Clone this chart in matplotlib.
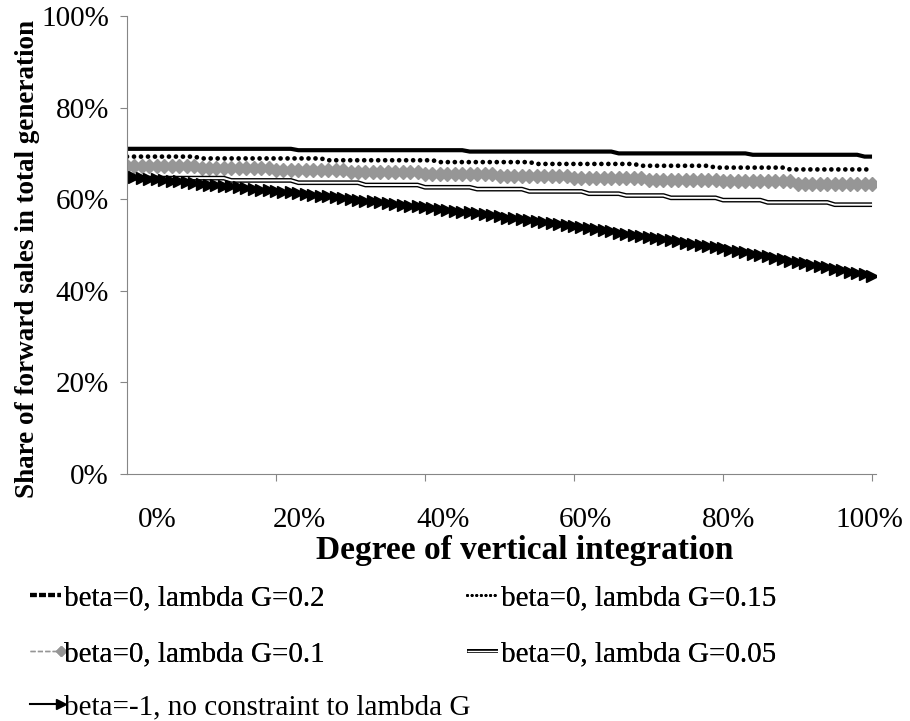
import numpy as np
import matplotlib
matplotlib.use("Agg")
import matplotlib.pyplot as plt
from matplotlib.lines import Line2D
from matplotlib.legend_handler import HandlerTuple, HandlerLine2D

plt.rcParams['font.family'] = ['Liberation Serif', 'DejaVu Serif']

# degree of vertical integration, 0..100 %
integration = np.arange(0, 101)

# share of forward sales (%)
lam20 = [71.0]*23 + [70.7]*23 + [70.4]*20 + [70.0]*18 + [69.7]*15 + [69.3]*2
lam15 = ([69.3]*10 + [68.9]*17 + [68.5]*15 + [68.1]*13 + [67.7]*14
         + [67.3]*10 + [66.9]*10 + [66.5]*12)
lam10 = ([67.2]*10 + [66.8]*10 + [66.4]*10 + [66.0]*10 + [65.6]*10
         + [65.1]*10 + [64.7]*10 + [64.3]*10 + [63.9]*10 + [63.4]*11)
lam05 = ([64.6]*14 + [64.1]*9 + [63.6]*9 + [63.1]*8 + [62.6]*7 + [62.2]*7
         + [61.7]*8 + [61.2]*5 + [60.8]*6 + [60.3]*7 + [59.8]*6 + [59.3]*9 + [58.8]*6)
beta_m1 = [65.0, 64.8, 64.7, 64.5, 64.4, 64.2, 64.0, 63.9, 63.7, 63.6,
           63.4, 63.2, 63.1, 62.9, 62.8, 62.6, 62.4, 62.3, 62.1, 62.0,
           61.8, 61.6, 61.5, 61.3, 61.1, 60.9, 60.8, 60.6, 60.4, 60.2,
           60.1, 59.9, 59.7, 59.5, 59.3, 59.2, 59.0, 58.8, 58.6, 58.5,
           58.3, 58.1, 57.9, 57.7, 57.5, 57.3, 57.1, 56.9, 56.7, 56.5,
           56.3, 56.0, 55.8, 55.6, 55.4, 55.2, 55.0, 54.8, 54.6, 54.4,
           54.2, 54.0, 53.7, 53.5, 53.2, 53.0, 52.7, 52.5, 52.2, 52.0,
           51.8, 51.5, 51.3, 51.0, 50.8, 50.5, 50.3, 50.0, 49.8, 49.5,
           49.3, 49.0, 48.7, 48.4, 48.1, 47.8, 47.5, 47.2, 46.9, 46.6,
           46.3, 46.0, 45.7, 45.4, 45.1, 44.8, 44.5, 44.2, 43.9, 43.6, 43.3]

labels = ["beta=0, lambda G=0.2", "beta=0, lambda G=0.15", "beta=0, lambda G=0.1",
          "beta=0, lambda G=0.05", "beta=-1, no constraint to lambda G"]
y_ticks = [0, 20, 40, 60, 80, 100]
x_tick_labels = ["0%", "20%", "40%", "60%", "80%", "100%"]


class EndMarkerHandler(HandlerLine2D):
    # legend sample with the marker only at the right end, like Excel
    def create_artists(self, legend, orig_handle, xdescent, ydescent,
                       width, height, fontsize, trans):
        arts = super().create_artists(legend, orig_handle, xdescent, ydescent,
                                      width, height, fontsize, trans)
        for a in arts:
            a.set_markevery([1])
        return arts


fig = plt.figure(figsize=(9.1, 7.21), dpi=100)
ax = fig.add_axes([127/910, 1 - 474/721, 749.5/910, 458/721])

gray = '#969696'
ax.plot(integration, lam20, color='black', lw=3, solid_capstyle='butt')
ax.plot(integration, lam15, color='black', lw=3.4, linestyle=(0, (0.01, 1.47)),
        dash_capstyle='round')
ax.plot(integration, lam10, color=gray, lw=1, ls='--', marker='D', ms=7.5,
        mec=gray, mfc=gray)
ax.plot(integration, lam05, color='black', lw=3.4, solid_capstyle='butt')
ax.plot(integration, lam05, color='white', lw=1.4, solid_capstyle='butt')
ax.plot(integration, beta_m1, color='black', lw=1.5, marker='>', ms=9)

ax.set_xlim(0, 100.6)
ax.set_ylim(0, 100)
ax.set_yticks(y_ticks)
ax.set_yticklabels([f"{v}%" for v in y_ticks], fontsize=21)
ax.set_xticks([20, 40, 60, 80, 100])
ax.set_xticklabels([])
ax.set_xticks([4.0, 23.2, 42.4, 61.5, 80.7, 99.7], minor=True)
ax.set_xticklabels(x_tick_labels, minor=True, fontsize=21)
ax.tick_params(axis='x', which='major', length=5, color='#868686')
ax.tick_params(axis='x', which='minor', length=0, pad=24)
ax.tick_params(axis='y', length=5, color='#868686', pad=8)
for s in ['top', 'right']:
    ax.spines[s].set_visible(False)
for s in ['left', 'bottom']:
    ax.spines[s].set_color('#868686')

fig.text(28/910, 1 - 259/721, "Share of forward sales in total generation",
         rotation=90, ha='center', va='center', fontsize=19.5, fontweight='bold')
fig.text(525/910, 1 - 551/721, "Degree of vertical integration",
         ha='center', va='center', fontsize=24, fontweight='bold')

# legend proxies
h20 = Line2D([], [], color='black', lw=3, linestyle=(0, (1.6, 0.6)))
h15 = Line2D([], [], color='black', lw=2.2, linestyle=(0, (0.01, 1.5)),
             dash_capstyle='round')
h10 = Line2D([], [], color=gray, lw=1, ls='--', marker='D', ms=5, mec=gray)
h05 = (Line2D([], [], color='black', lw=2.8, solid_capstyle='butt'),
       Line2D([], [], color='white', lw=1.0, solid_capstyle='butt'))
hm1 = Line2D([], [], color='black', lw=1.5, marker='>', ms=7)

hmap = {Line2D: EndMarkerHandler(marker_pad=0, numpoints=2),
        tuple: HandlerTuple(ndivide=1)}

leg1 = fig.legend([h20, h10, h15, h05], [labels[0], labels[2], labels[1], labels[3]],
                  ncol=2, loc='upper left', bbox_to_anchor=(30/910, 1 - 585/721),
                  frameon=False, fontsize=21, borderpad=0, borderaxespad=0,
                  handlelength=1.05, handletextpad=0.1, columnspacing=4.9,
                  labelspacing=1.0, handler_map=hmap)
fig.add_artist(leg1)
fig.legend([hm1], [labels[4]], loc='upper left',
           bbox_to_anchor=(30/910, 1 - 694/721), frameon=False, fontsize=21,
           borderpad=0, borderaxespad=0, handlelength=1.05, handletextpad=0.1,
           handler_map=hmap)

fig.savefig("out.png", dpi=100)
